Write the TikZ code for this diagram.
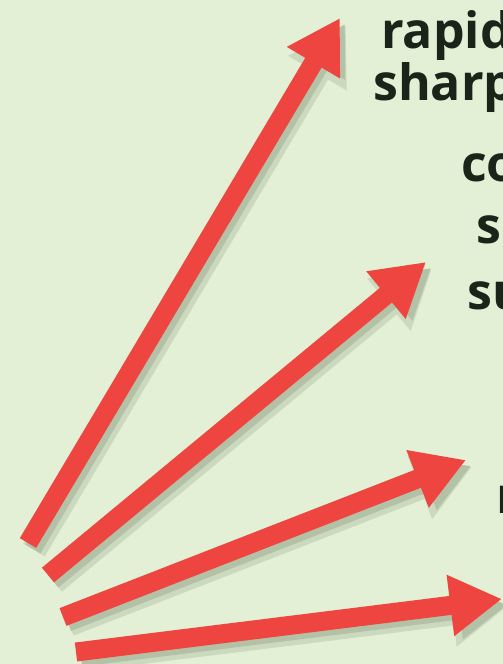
\documentclass[tikz,border=0pt]{standalone}
\usepackage{fontspec}
\setmainfont{Open Sans}
\usetikzlibrary{arrows.meta}
\definecolor{bg}{HTML}{E3F0D5}
\definecolor{arr}{HTML}{EE4540}
\definecolor{shdA}{HTML}{CBD9BE}
\definecolor{shdB}{HTML}{B3C2A6}
\definecolor{txt}{HTML}{1A2418}
\begin{document}
\begin{tikzpicture}[x=1pt,y=-1pt,
  fan/.style={line width=19pt, color=arr, -{Triangle[width=58pt,length=52pt]}},
  fanshadowA/.style={line width=25pt, color=shdA, -{Triangle[width=64pt,length=56pt]}},
  fanshadowB/.style={line width=17pt, color=shdB, -{Triangle[width=54pt,length=48pt]}},
  lbl/.style={anchor=base west, font=\fontsize{50}{60}\selectfont\bfseries, text=txt, inner sep=0pt}]
\fill[bg] (0,0) rectangle (503,664);
\useasboundingbox (0,0) rectangle (503,664);
% tails and tips
\coordinate (t1) at (28,543);  \coordinate (h1) at (340,18);
\coordinate (t2) at (48,575);  \coordinate (h2) at (426,262);
\coordinate (t3) at (63,617);  \coordinate (h3) at (466,460);
\coordinate (t4) at (76,652);  \coordinate (h4) at (502,599);
% shadows
\foreach \i in {1,2,3,4}{
  \draw[fanshadowA] ([shift={(6,7)}]t\i) -- ([shift={(6,7)}]h\i);
}
\foreach \i in {1,2,3,4}{
  \draw[fanshadowB] ([shift={(5,6)}]t\i) -- ([shift={(5,6)}]h\i);
}
% arrows
\foreach \i in {1,2,3,4}{
  \draw[fan] (t\i) -- (h\i);
}
% labels
\node[lbl] (l1) at (381,48) {rapid};
\node[lbl] (l2) at (373,100) {sharp};
\node[lbl] (l3) at (461,181) {co};
\node[lbl] (l4) at (476,243) {s};
\node[lbl] (l5) at (467,309) {su};
\node[lbl] (l6) at (496,513) {r};
\end{tikzpicture}
\end{document}
